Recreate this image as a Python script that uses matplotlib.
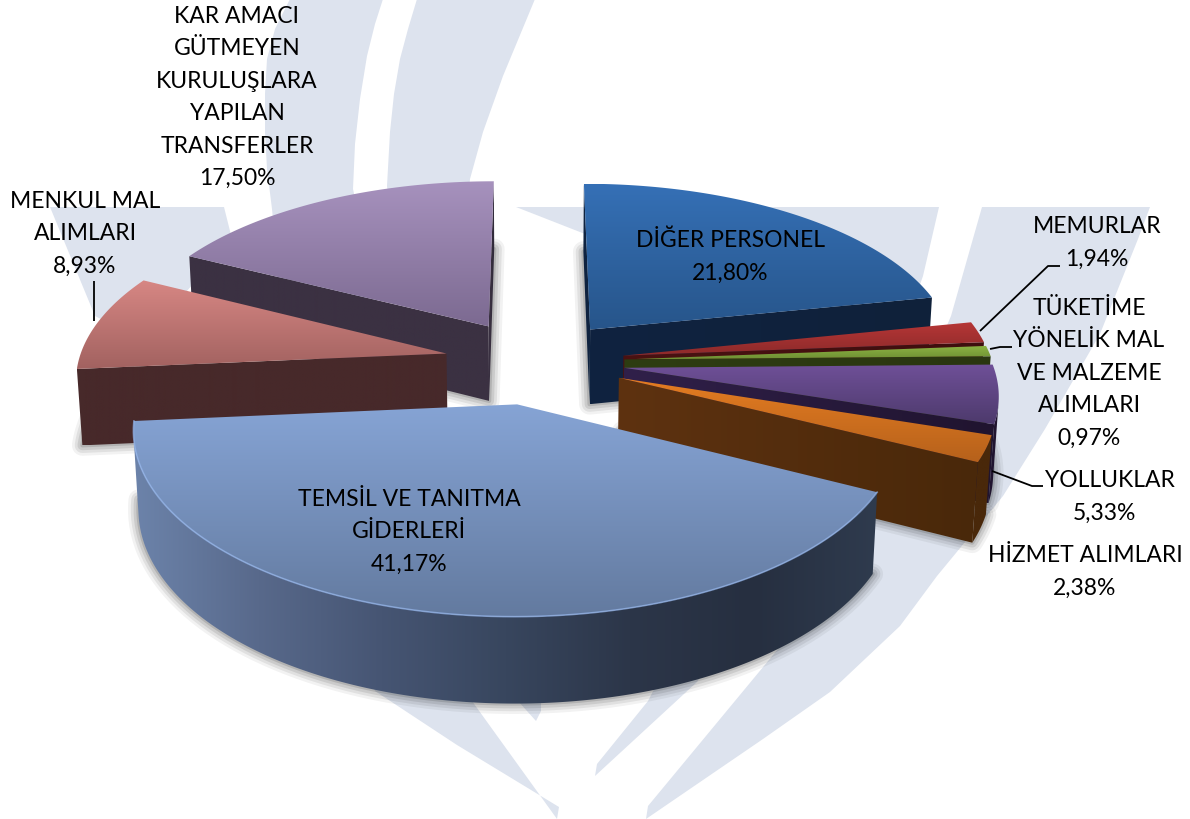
import numpy as np
import matplotlib
matplotlib.use("Agg")
import matplotlib.pyplot as plt
from matplotlib.patches import Polygon
from matplotlib.colors import to_rgb

# ---------- data (clockwise from 12 o'clock) ----------
categories = ["DİĞER PERSONEL", "MEMURLAR", "TÜKETİME YÖNELİK MAL VE MALZEME ALIMLARI",
              "YOLLUKLAR", "HİZMET ALIMLARI", "TEMSİL VE TANITMA GİDERLERİ",
              "MENKUL MAL ALIMLARI", "KAR AMACI GÜTMEYEN KURULUŞLARA YAPILAN TRANSFERLER"]
values = [21.80, 1.94, 0.97, 5.33, 2.38, 41.17, 8.93, 17.50]
label_lines = [["DİĞER PERSONEL"], ["MEMURLAR"],
               ["TÜKETİME", "YÖNELİK MAL", "VE MALZEME", "ALIMLARI"],
               ["YOLLUKLAR"], ["HİZMET ALIMLARI"],
               ["TEMSİL VE TANITMA", "GİDERLERİ"],
               ["MENKUL MAL", "ALIMLARI"],
               ["KAR AMACI", "GÜTMEYEN", "KURULUŞLARA", "YAPILAN", "TRANSFERLER"]]

# ---------- style ----------
top_colors = ["#3570b6 #27558a", "#b63636 #8c2a2a", "#8db443 #6f9034", "#6f5098 #4d3a6c",
              "#e57d22 #b6611b", "#86a4d5 #637a9f", "#d78784 #a26260", "#a792be #7c6a91"]
wall_colors = [["#0f2340", "#10213a"], ["#4b1212", "#3e0e0e"], ["#2e3d12", "#2a3610"],
               ["#30204a", "#20142f"], ["#5e3210", "#49280a"],
               ["#6c83aa", "#58698b", "#465573", "#38465e", "#2c3649", "#262f40", "#2f3b4e"],
               ["#47292a", "#45292a"], ["#3b3142", "#2f2a38"]]
draw_order = [0, 7, 6, 1, 2, 3, 4, 5]
BEVEL_SLICE = 5
WM = "#dde3ee"
CX, CY = 534.5, 362.5      # projection centre
A, B = 368.0, 172.5        # disc scale
K, M = 0.13, 0.012         # perspective
H = 77.0                   # thickness
EXPLODE = 0.245
label_pos = [(730, 240.5), (1097, 226.5), (1089, 308.5), (1110, 480.5), (1085, 555.5),
             (409, 499.5), (85, 201.5), (237, 16.5)]
pct_x = [730, 1097, 1089, 1104, 1085, 409, 85, 237]
LINE = 32.4
leaders = [[(980, 332), (1048, 267), (1060, 267)],
           [(990, 350), (1000, 348), (1012, 348)],
           [(992, 472), (1032, 487), (1043, 487)],
           [(94, 282), (94, 322)]]
watermark = [
    [(290, 0), (383, 0), (375, 25), (367, 57), (360, 100), (355, 145), (353, 190), (420, 500),
     (472, 702), (557, 820), (559, 808), (457, 746), (375, 692),
     (300, 500), (272, 210), (267, 170), (265, 133), (265, 95), (267, 60), (275, 30)],
    [(417, 0), (535, 0), (503, 77), (483, 133), (470, 180), (460, 300), (400, 300), (387, 187),
     (390, 133), (394, 95), (400, 60), (408, 30)],
    [(50, 208), (224, 208), (232, 240), (180, 300), (120, 330), (95, 317)],
    [(516, 208), (939, 208), (923, 277), (880, 400), (800, 530), (697, 683), (595, 777), (597, 765),
     (648, 702), (700, 600), (650, 350), (585, 235)],
    [(982, 208), (1150, 208), (1138, 240), (1100, 335), (1045, 430), (1003, 497), (937, 577),
     (900, 627), (830, 693), (763, 740), (646, 820), (648, 807), (778, 650), (860, 530), (951, 317)],
    [(518, 702), (541, 700), (541, 712), (536, 722)],
]

plt.rcParams["font.family"] = ["Lato", "DejaVu Sans"]
fig = plt.figure(figsize=(11.9, 8.2), dpi=100)
ax = fig.add_axes([0, 0, 1, 1])
ax.axis("off")


def project(X, Y, Z=0.0):
    s = 1.0 / (1.0 + K * Y + M * Z)
    return CX + A * X * s, CY - B * Y * s + H * Z * s


def mix(stops, t):
    stops = [np.array(to_rgb(c)) for c in stops]
    pos = t * (len(stops) - 1)
    i = min(int(pos), len(stops) - 2)
    f = pos - i
    return tuple(stops[i] * (1 - f) + stops[i + 1] * f)


def shoelace(p):
    p = np.asarray(p)
    x, y = p[:, 0], p[:, 1]
    return np.sum(x * np.roll(y, -1) - np.roll(x, -1) * y)


def filled(poly, stops, zo, horizontal):
    """Polygon filled with a smooth gradient, through a clipped image."""
    arr = np.asarray(poly)
    ts = np.linspace(0, 1, 256)
    if horizontal:
        grad = np.array([[mix(stops, t) for t in ts]])
    else:
        grad = np.array([[mix(stops, t)] for t in ts])
    im = ax.imshow(grad, extent=(arr[:, 0].min(), arr[:, 0].max(), arr[:, 1].max(), arr[:, 1].min()),
                   origin="upper", aspect="auto", interpolation="bilinear", zorder=zo)
    clip = Polygon(poly, closed=True, transform=ax.transData, fc="none", ec="none")
    ax.add_patch(clip)
    im.set_clip_path(clip)


def wall(points3d, zo, stops, want_sign):
    """Extruded band under the part of a polyline of disc points that faces the viewer."""
    keep = []
    for a, b in zip(points3d[:-1], points3d[1:]):
        q = [project(*a), project(*b), project(*b, 1.0), project(*a, 1.0)]
        if shoelace(q) * want_sign > 0:
            keep.extend([a, b])
    if not keep:
        return
    poly = [project(*p) for p in keep] + [project(*p, 1.0) for p in keep[::-1]]
    filled(poly, stops, zo, True)


for poly in watermark:
    ax.add_patch(Polygon(poly, closed=True, fc=WM, ec="none", zorder=0))

fractions = np.array(values) / np.sum(values)
edges = np.concatenate([[0], np.cumsum(fractions)]) * 2 * np.pi

# soft shadow below all slices
for i in range(len(values)):
    th = np.linspace(edges[i], edges[i + 1], 80)
    mid = 0.5 * (edges[i] + edges[i + 1])
    ox, oy = EXPLODE * np.sin(mid), EXPLODE * np.cos(mid)
    pts = [project(ox, oy, 1.0)] + [project(ox + np.sin(t), oy + np.cos(t), 1.0) for t in th]
    for lw, al in [(15, 0.05), (11, 0.07), (7, 0.09), (3, 0.12)]:
        ax.add_patch(Polygon(pts, closed=True, fc="none", ec="black", lw=lw, alpha=al,
                             joinstyle="round", zorder=1))

zo = 2
for i in draw_order:
    th = np.linspace(edges[i], edges[i + 1], max(int(np.degrees(edges[i + 1] - edges[i]) * 2), 12))
    mid = 0.5 * (edges[i] + edges[i + 1])
    ox, oy = EXPLODE * np.sin(mid), EXPLODE * np.cos(mid)
    rim3d = [(ox + np.sin(t), oy + np.cos(t)) for t in th]
    stops = wall_colors[i]

    def radial(t):
        return [(ox + u * np.sin(t), oy + u * np.cos(t)) for u in (0, 1)]

    wall(radial(edges[i]), zo, stops[:1] * 2, -1)
    wall(radial(edges[i + 1]), zo, stops[:2], +1)
    zo += 1
    wall(rim3d, zo, stops if len(stops) > 2 else stops[-1:] * 2, -1)
    zo += 1

    top = [project(ox, oy)] + [project(*p) for p in rim3d]
    filled(top, top_colors[i].split(), zo, False)
    zo += 1
    if i == BEVEL_SLICE:
        rim_xy = np.array(top[1:])
        light = tuple(np.minimum(np.array(to_rgb(top_colors[i].split()[0])) * 1.1, 1))
        ax.plot(rim_xy[:, 0], rim_xy[:, 1], color=light, lw=1.2, alpha=0.7, zorder=zo)
        zo += 1

ax.set_xlim(0, 1190)
ax.set_ylim(820, 0)

for path in leaders:
    xy = np.array(path)
    ax.plot(xy[:, 0], xy[:, 1], color="black", lw=1.3, zorder=zo, solid_capstyle="butt")

for lines, (x, y), px, v in zip(label_lines, label_pos, pct_x, values):
    row = y
    for ln in lines:
        ax.text(x, row, ln, ha="center", va="center", fontsize=16.5, color="black", zorder=zo + 1)
        row += LINE
    ax.text(px, row, f"{v:.2f}%".replace(".", ","), ha="center", va="center",
            fontsize=16.5, color="black", zorder=zo + 1)

fig.savefig("out.png", dpi=100)
